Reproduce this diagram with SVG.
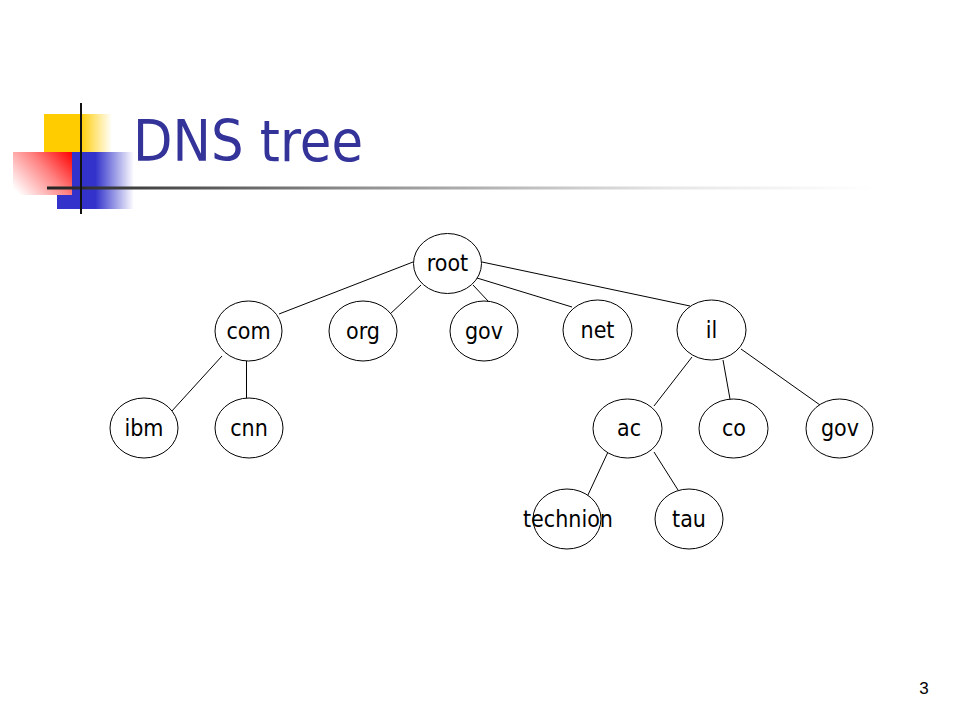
<svg xmlns="http://www.w3.org/2000/svg" width="960" height="720" viewBox="0 0 960 720">
<defs>
<linearGradient id="gY" x1="44" y1="0" x2="112" y2="0" gradientUnits="userSpaceOnUse">
<stop offset="0" stop-color="#FFCC00"/><stop offset="0.53" stop-color="#FFCC00"/><stop offset="1" stop-color="#FFCC00" stop-opacity="0"/>
</linearGradient>
<linearGradient id="gB" x1="57" y1="0" x2="134" y2="0" gradientUnits="userSpaceOnUse">
<stop offset="0" stop-color="#3333CC"/><stop offset="0.5" stop-color="#3333CC"/><stop offset="1" stop-color="#3333CC" stop-opacity="0"/>
</linearGradient>
<linearGradient id="gR" x1="72" y1="152" x2="22" y2="198" gradientUnits="userSpaceOnUse">
<stop offset="0" stop-color="#FF0000"/><stop offset="0.45" stop-color="#FF8080"/><stop offset="1" stop-color="#FFFFFF"/>
</linearGradient>
<linearGradient id="gL" x1="47" y1="0" x2="875" y2="0" gradientUnits="userSpaceOnUse">
<stop offset="0" stop-color="#222222"/><stop offset="0.38" stop-color="#909090"/><stop offset="0.75" stop-color="#E6E6E6"/><stop offset="1" stop-color="#FFFFFF"/>
</linearGradient>
</defs>
<style>
.n ellipse{fill:#fff;stroke:#000;stroke-width:1}
.n text{font-family:"DejaVu Sans Condensed","DejaVu Sans",sans-serif;font-size:23px;fill:#000;text-anchor:middle}
#edges line{stroke:#000;stroke-width:1}
</style>
<rect width="960" height="720" fill="#fff"/>
<g id="logo">
<rect x="44" y="114" width="68" height="38" fill="url(#gY)"/>
<rect x="57" y="152" width="77" height="57" fill="url(#gB)"/>
<rect x="13" y="152" width="59" height="43" fill="url(#gR)"/>
<rect x="47" y="186.5" width="828" height="3" fill="url(#gL)"/>
<rect x="80" y="103" width="2" height="111" fill="#111"/>
</g>
<text id="title" x="133" y="161" font-family="DejaVu Sans Condensed, DejaVu Sans, sans-serif" font-size="57" fill="#333399" textLength="230" lengthAdjust="spacingAndGlyphs">DNS tree</text>
<g id="edges">
<line x1="413" y1="262" x2="279" y2="314"/>
<line x1="421" y1="285" x2="389" y2="315"/>
<line x1="473" y1="285" x2="488" y2="301"/>
<line x1="477" y1="278" x2="572" y2="307"/>
<line x1="482" y1="262" x2="690" y2="306"/>
<line x1="222" y1="356" x2="171" y2="412"/>
<line x1="246.5" y1="361" x2="246.5" y2="398"/>
<line x1="692" y1="357" x2="654" y2="406"/>
<line x1="723" y1="360" x2="730" y2="399"/>
<line x1="741" y1="349" x2="820" y2="405"/>
<line x1="608" y1="452" x2="587" y2="497"/>
<line x1="654" y1="452" x2="678" y2="490"/>
</g>
<g id="n-root" class="n"><ellipse cx="447.5" cy="263.5" rx="34" ry="30"/><text x="447.5" y="271">root</text></g>
<g id="n-com" class="n"><ellipse cx="248.5" cy="331" rx="33.5" ry="30"/><text x="248.5" y="339">com</text></g>
<g id="n-org" class="n"><ellipse cx="363" cy="331" rx="34" ry="30"/><text x="363" y="339">org</text></g>
<g id="n-gov" class="n"><ellipse cx="484" cy="331" rx="34" ry="30"/><text x="484" y="339">gov</text></g>
<g id="n-net" class="n"><ellipse cx="597.5" cy="330" rx="34.5" ry="30"/><text x="597.5" y="338">net</text></g>
<g id="n-il" class="n"><ellipse cx="711.5" cy="330" rx="34.5" ry="30"/><text x="711.5" y="338">il</text></g>
<g id="n-ibm" class="n"><ellipse cx="144" cy="428" rx="34" ry="30"/><text x="144" y="436">ibm</text></g>
<g id="n-cnn" class="n"><ellipse cx="249" cy="428" rx="34" ry="30"/><text x="249" y="436">cnn</text></g>
<g id="n-ac" class="n"><ellipse cx="627.5" cy="428.5" rx="34.5" ry="29.5"/><text x="629" y="436">ac</text></g>
<g id="n-co" class="n"><ellipse cx="733.5" cy="428.5" rx="34.5" ry="29.5"/><text x="734" y="436">co</text></g>
<g id="n-gov2" class="n"><ellipse cx="839.5" cy="428.5" rx="33.5" ry="29.5"/><text x="840" y="436">gov</text></g>
<g id="n-technion" class="n"><ellipse cx="567" cy="519" rx="34" ry="30"/><text x="568" y="527">technion</text></g>
<g id="n-tau" class="n"><ellipse cx="689" cy="519" rx="34" ry="30"/><text x="689" y="527">tau</text></g>
<text id="page" x="924" y="694" font-family="Liberation Sans, Arial, sans-serif" font-size="17" fill="#000" text-anchor="middle">3</text>
</svg>
